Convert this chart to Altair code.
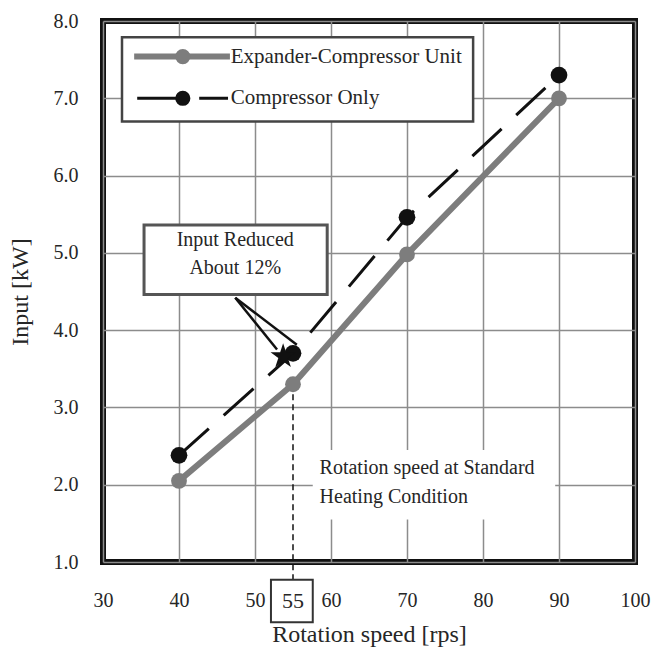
import altair as alt
import pandas as pd

# ---------------- data ----------------
speed = [40, 55, 70, 90]
ecu_input = [2.05, 3.30, 4.98, 7.00]      # Expander-Compressor Unit
comp_input = [2.38, 3.70, 5.46, 7.30]     # Compressor Only
series_names = ["Expander-Compressor Unit", "Compressor Only"]
x_ticks = [30, 40, 50, 60, 70, 80, 90, 100]
y_ticks = [1, 2, 3, 4, 5, 6, 7, 8]
standard_speed = 55
annotation_lines = ["Input Reduced", "About 12%"]
condition_lines = ["Rotation speed at Standard", "Heating Condition"]

# ---------------- styles ----------------
FONT = "Liberation Serif"
TXT = "#262626"
GRAY = "#7d7d7d"
BLACK = "#111111"
GRID = "#8c8c8c"
STAR = ("M0,-1L0.2245,-0.309L0.951,-0.309L0.363,0.118L0.588,0.809L0,0.382"
        "L-0.588,0.809L-0.363,0.118L-0.951,-0.309L-0.2245,-0.309Z")

ecu = pd.DataFrame({"x": speed, "y": ecu_input})
comp = pd.DataFrame({"x": speed, "y": comp_input})

xs = alt.Scale(domain=[30, 100], nice=False, zero=False)
ys = alt.Scale(domain=[1, 8], nice=False, zero=False)

x_axis = alt.Axis(values=x_ticks, format="d", grid=True, gridColor=GRID, gridWidth=1.5,
                  domain=False, ticks=False, labelFont=FONT, labelFontSize=20, labelColor=TXT,
                  labelPadding=28, labelFlush=False, labelOverlap=False,
                  title="Rotation speed [rps]", titleFont=FONT, titleFontSize=24,
                  titleFontWeight="normal", titleColor=TXT, titlePadding=12)
y_axis = alt.Axis(values=y_ticks, format=".1f", grid=True, gridColor=GRID, gridWidth=1.5,
                  domain=False, ticks=False, labelFont=FONT, labelFontSize=20, labelColor=TXT,
                  labelPadding=25, labelFlush=False, labelOverlap=False,
                  title="Input [kW]", titleFont=FONT, titleFontSize=24,
                  titleFontWeight="normal", titleColor=TXT, titlePadding=21)

X = alt.X("x:Q", scale=xs, axis=x_axis)
Y = alt.Y("y:Q", scale=ys, axis=y_axis)

# ---------------- annotation geometry (data units) ----------------
cond_bg = pd.DataFrame({"x": [57.6], "x2": [89.5], "y": [2.45], "y2": [1.55]})
cond_txt = pd.DataFrame({"x": [58.5, 58.5], "y": [2.22, 1.84], "t": condition_lines})

vline = pd.DataFrame({"x": [standard_speed], "y": [ecu_input[1]], "y2": [0.77]})
box55 = pd.DataFrame({"x": [52.1], "x2": [57.6], "y": [0.77], "y2": [0.22]})
txt55 = pd.DataFrame({"x": [standard_speed], "y": [0.50], "t": [str(standard_speed)]})

ann_box = pd.DataFrame({"x": [35.4], "x2": [59.5], "y": [5.36], "y2": [4.46]})
ann_txt = pd.DataFrame({"x": [47.4, 47.4], "y": [5.16, 4.81], "t": annotation_lines})
arrows = pd.DataFrame({"x": [47.4, 47.4], "y": [4.42, 4.42], "x2": [52.9, 55.5], "y2": [3.75, 3.81]})
star = pd.DataFrame({"x": [53.7], "y": [3.66]})

leg_box = pd.DataFrame({"x": [32.5], "x2": [78.7], "y": [7.79], "y2": [6.70]})
leg_gray = pd.DataFrame({"x": [34.1], "x2": [46.7], "y": [7.54]})
leg_black = pd.DataFrame({"x": [34.5], "x2": [46.45], "y": [7.0]})
leg_pt_gray = pd.DataFrame({"x": [40.5], "y": [7.54]})
leg_pt_black = pd.DataFrame({"x": [40.5], "y": [7.0]})
leg_txt = pd.DataFrame({"x": [46.8, 46.8], "y": [7.54, 7.0], "t": series_names})

txt_style = dict(font=FONT, fontSize=20, color=TXT)

layers = [
    alt.Chart(cond_bg).mark_rect(color="white").encode(x=X, x2="x2", y=Y, y2="y2"),
    alt.Chart(vline).mark_rule(color=BLACK, strokeWidth=1.5, strokeDash=[6, 4]).encode(
        x=X, y=Y, y2="y2"),
    alt.Chart(comp).mark_line(color=BLACK, strokeWidth=3, strokeDash=[40, 20]).encode(x=X, y=Y),
    alt.Chart(comp).mark_circle(color=BLACK, size=280, opacity=1).encode(x=X, y=Y),
    alt.Chart(ecu).mark_line(color=GRAY, strokeWidth=6).encode(x=X, y=Y),
    alt.Chart(ecu).mark_circle(color=GRAY, size=250, opacity=1).encode(x=X, y=Y),
    alt.Chart(cond_txt).mark_text(align="left", baseline="middle", **txt_style).encode(
        x=X, y=Y, text="t:N"),
    alt.Chart(box55).mark_rect(fill="white", stroke="#333333", strokeWidth=2).encode(
        x=X, x2="x2", y=Y, y2="y2"),
    alt.Chart(txt55).mark_text(align="center", baseline="middle", font=FONT, fontSize=22,
                               color=TXT).encode(x=X, y=Y, text="t:N"),
    alt.Chart(ann_box).mark_rect(fill="white", stroke="#555555", strokeWidth=3).encode(
        x=X, x2="x2", y=Y, y2="y2"),
    alt.Chart(ann_txt).mark_text(align="center", baseline="middle", **txt_style).encode(
        x=X, y=Y, text="t:N"),
    alt.Chart(arrows).mark_rule(color=BLACK, strokeWidth=2.5).encode(
        x=X, x2="x2", y=Y, y2="y2"),
    # legend
    alt.Chart(leg_box).mark_rect(fill="white", stroke="#444444", strokeWidth=2.5).encode(
        x=X, x2="x2", y=Y, y2="y2"),
    alt.Chart(leg_gray).mark_rule(color=GRAY, strokeWidth=6).encode(x=X, x2="x2", y=Y),
    alt.Chart(leg_black).mark_rule(color=BLACK, strokeWidth=3, strokeDash=[42, 20]).encode(
        x=X, x2="x2", y=Y),
    alt.Chart(leg_pt_gray).mark_circle(color=GRAY, opacity=1, size=230).encode(x=X, y=Y),
    alt.Chart(leg_pt_black).mark_circle(color=BLACK, opacity=1, size=230).encode(x=X, y=Y),
    alt.Chart(leg_txt).mark_text(align="left", baseline="middle", font=FONT, fontSize=21,
                                 color=TXT).encode(x=X, y=Y, text="t:N"),
    alt.Chart(star).mark_point(shape=STAR, filled=True, color=BLACK, size=700, opacity=1).encode(
        x=X, y=Y),
]

chart = alt.layer(*layers).properties(
    width=532, height=541,
    padding={"left": 103, "top": 21, "right": 18, "bottom": 92},
    autosize=alt.AutoSizeParams(type="none"),
    background="white",
).configure_view(stroke="#111111", strokeWidth=6)

chart.save("out.html", embed_options={"renderer": "svg", "actions": False})
